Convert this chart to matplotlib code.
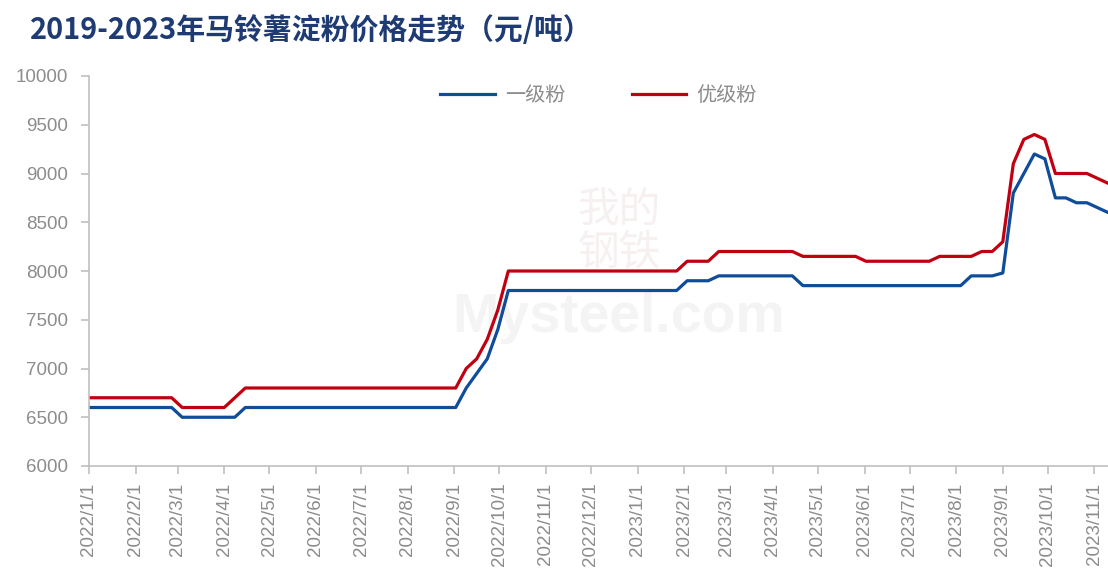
import pandas as pd
import matplotlib.pyplot as plt

plt.rcParams['font.family'] = ['Liberation Sans', 'Noto Sans CJK SC', 'DejaVu Sans']

# weekly price points where the lines change
dates = ['2022-01-01', '2022-02-25', '2022-03-04', '2022-04-01', '2022-04-08', '2022-04-15',
         '2022-09-02', '2022-09-09', '2022-09-16', '2022-09-23', '2022-09-30', '2022-10-07',
         '2023-01-27', '2023-02-03', '2023-02-17', '2023-02-24', '2023-04-14', '2023-04-21',
         '2023-05-26', '2023-06-02', '2023-07-14', '2023-07-21', '2023-08-04', '2023-08-11',
         '2023-08-18', '2023-08-25', '2023-09-01', '2023-09-08', '2023-09-15', '2023-09-22',
         '2023-09-29', '2023-10-06', '2023-10-13', '2023-10-20', '2023-10-27', '2023-11-03',
         '2023-11-10']
grade1 = [6600, 6600, 6500, 6500, 6500, 6600,
          6600, 6800, 6950, 7100, 7400, 7800,
          7800, 7900, 7900, 7950, 7950, 7850,
          7850, 7850, 7850, 7850, 7850, 7950,
          7950, 7950, 7980, 8800, 9000, 9200,
          9150, 8750, 8750, 8700, 8700, 8650,
          8600]
premium = [6700, 6700, 6600, 6600, 6700, 6800,
           6800, 7000, 7100, 7300, 7600, 8000,
           8000, 8100, 8100, 8200, 8200, 8150,
           8150, 8100, 8100, 8150, 8150, 8150,
           8200, 8200, 8300, 9100, 9350, 9400,
           9350, 9000, 9000, 9000, 9000, 8950,
           8900]
month_ticks = pd.date_range('2022-01-01', '2023-11-01', freq='MS')

dates = pd.to_datetime(dates)

fig = plt.figure(figsize=(11.08, 5.86), dpi=100)
ax = fig.add_axes([89 / 1108, 1 - 466 / 586, 1 - 89 / 1108, 390 / 586])

# faint watermark
ax.text(0.52, 0.38, 'Mysteel.com', transform=ax.transAxes, ha='center', va='center',
        fontsize=40, fontweight='bold', color='#f4f4f4', zorder=0)
ax.text(0.52, 0.60, '我的\n钢铁', transform=ax.transAxes, ha='center', va='center',
        fontsize=30, color='#f6f0f0', family=['Noto Sans CJK SC'], linespacing=1.0, zorder=0)

ax.plot(dates, grade1, color='#0f4c99', lw=2.3, label='一级粉')
ax.plot(dates, premium, color='#c00010', lw=2.3, label='优级粉')

ax.set_ylim(6000, 10000)
ax.set_yticks(range(6000, 10001, 500))
ax.set_xlim(pd.Timestamp('2022-01-01'), pd.Timestamp('2023-11-10'))
ax.set_xticks(month_ticks)
ax.set_xticklabels([f'{d.year}/{d.month}/{d.day}' for d in month_ticks], rotation=90)

for s in ['top', 'right']:
    ax.spines[s].set_visible(False)
for s in ['left', 'bottom']:
    ax.spines[s].set_color('#c0c0c0')
    ax.spines[s].set_linewidth(1.2)
ax.tick_params(axis='both', colors='#c0c0c0', labelcolor='#8c8c8c', labelsize=13.5,
               length=6, width=1.2)
ax.tick_params(axis='y', pad=9)
ax.tick_params(axis='x', pad=6)

leg = ax.legend(loc='center', bbox_to_anchor=(0.5, 0.951), ncol=2, frameon=False,
                prop={'family': 'Noto Sans CJK SC', 'size': 14.5}, handlelength=2.7,
                columnspacing=3.3, handletextpad=0.5)
for t in leg.get_texts():
    t.set_color('#8c8c8c')

fig.text(30 / 1108, 1 - 30 / 586, '2019-2023年马铃薯淀粉价格走势（元/吨）', ha='left', va='center',
         fontsize=20.8, fontweight='bold', color='#1f3b73', family=['Noto Sans CJK SC'])

fig.savefig('out.png', dpi=100)
